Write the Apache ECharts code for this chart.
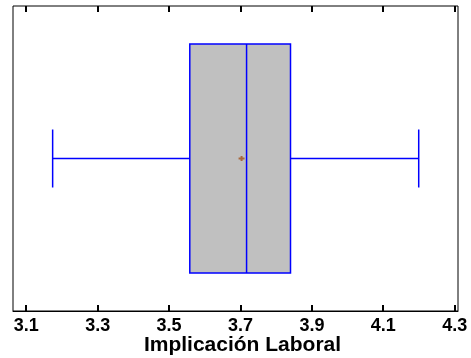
<!DOCTYPE html>
<html>
<head>
<meta charset="utf-8">
<script src="https://cdn.jsdelivr.net/npm/echarts@6/dist/echarts.min.js"></script>
<style>
  html, body { margin: 0; padding: 0; background: #ffffff; }
  #chart { width: 471px; height: 358px; }
</style>
</head>
<body>
<div id="chart"></div>
<script>
// Five-number summary plus mean for the single variable
const groups = [''];
const whiskerLow = [3.174];
const quartile1 = [3.558];
const medians = [3.717];
const quartile3 = [3.840];
const whiskerHigh = [4.199];
const means = [3.703];

// Axis ticks and labels
const tickValues = [3.1, 3.3, 3.5, 3.7, 3.9, 4.1, 4.3];
const tickLabels = ['3.1', '3.3', '3.5', '3.7', '3.9', '4.1', '4.3'];
const axisTitle = 'Implicación Laboral';

const xMin = 3.063;
const xMax = 4.309;

const rows = groups.map((g, i) => [
  i, whiskerLow[i], quartile1[i], medians[i], quartile3[i], whiskerHigh[i], means[i]
]);

const BLUE = '#0000ff';
const LINE_W = 1.5;
const TICK_LEN = 6;

function seg(x1, y1, x2, y2, color, width) {
  return {
    type: 'line',
    shape: { x1: x1, y1: y1, x2: x2, y2: y2 },
    style: { stroke: color || BLUE, lineWidth: width || LINE_W }
  };
}

// Inward ticks on the top and bottom edges of the frame, placed by the x scale
function frameTicks(params, api, cat) {
  const area = params.coordSys;
  const top = area.y;
  const bottom = area.y + area.height;
  const out = [];
  tickValues.forEach(function (t) {
    const x = Math.round(api.coord([t, cat])[0]);
    out.push(seg(x, bottom, x, bottom - TICK_LEN, '#000000', 2));
    out.push(seg(x, top, x, top + TICK_LEN, '#000000', 2));
  });
  return out;
}

function renderBox(params, api) {
  const cat = api.value(0);
  const lo = api.coord([api.value(1), cat]);
  const q1 = api.coord([api.value(2), cat]);
  const md = api.coord([api.value(3), cat]);
  const q3 = api.coord([api.value(4), cat]);
  const hi = api.coord([api.value(5), cat]);
  const mn = api.coord([api.value(6), cat]);
  const cy = q1[1];
  const boxHalf = 114.5;
  const capHalf = 29;
  const plusColor = '#a8683c';
  const children = [
    seg(lo[0], cy, q1[0], cy),
    seg(q3[0], cy, hi[0], cy),
    seg(lo[0], cy - capHalf, lo[0], cy + capHalf),
    seg(hi[0], cy - capHalf, hi[0], cy + capHalf),
    {
      type: 'rect',
      shape: { x: q1[0], y: cy - boxHalf, width: q3[0] - q1[0], height: boxHalf * 2 },
      style: { fill: '#c0c0c0', stroke: BLUE, lineWidth: LINE_W }
    },
    seg(md[0], cy - boxHalf, md[0], cy + boxHalf),
    seg(mn[0] - 3, cy, mn[0] + 3, cy, plusColor, 2),
    seg(mn[0], cy - 2.5, mn[0], cy + 2.5, plusColor, 2)
  ];
  return {
    type: 'group',
    children: children.concat(params.dataIndex === 0 ? frameTicks(params, api, cat) : [])
  };
}

function labelFont(size) {
  return {
    fontFamily: 'Liberation Sans, Arial, sans-serif',
    fontWeight: 'bold',
    fontSize: size,
    color: '#000000'
  };
}

function tickText(v) {
  const k = tickValues.findIndex(t => Math.abs(t - v) < 1e-9);
  return k >= 0 ? tickLabels[k] : '';
}

const chart = echarts.init(document.getElementById('chart'), null, { renderer: 'canvas' });

chart.setOption({
  animation: false,
  backgroundColor: '#ffffff',
  grid: {
    left: 13, right: 13, top: 6, bottom: 47,
    outerBoundsMode: 'none',
    show: true,
    borderColor: '#000000',
    borderWidth: 1
  },
  xAxis: [
    {
      type: 'value',
      position: 'bottom',
      min: xMin,
      max: xMax,
      axisLine: { show: true, onZero: false, lineStyle: { color: '#000000', width: 1 } },
      splitLine: { show: false },
      axisTick: { show: false },
      axisLabel: Object.assign({
        customValues: tickValues.slice(),
        margin: 6,
        formatter: tickText
      }, labelFont(18)),
      name: axisTitle,
      nameLocation: 'middle',
      nameGap: 24,
      nameMoveOverlap: false,
      nameTextStyle: Object.assign({ padding: [0, 0, 0, 14] }, labelFont(21))
    }
  ],
  yAxis: {
    type: 'category',
    data: groups,
    show: false
  },
  series: [
    {
      type: 'custom',
      xAxisIndex: 0,
      clip: false,
      renderItem: renderBox,
      encode: { x: [1, 2, 3, 4, 5, 6], y: 0 },
      data: rows,
      silent: true
    }
  ]
});
</script>
</body>
</html>
